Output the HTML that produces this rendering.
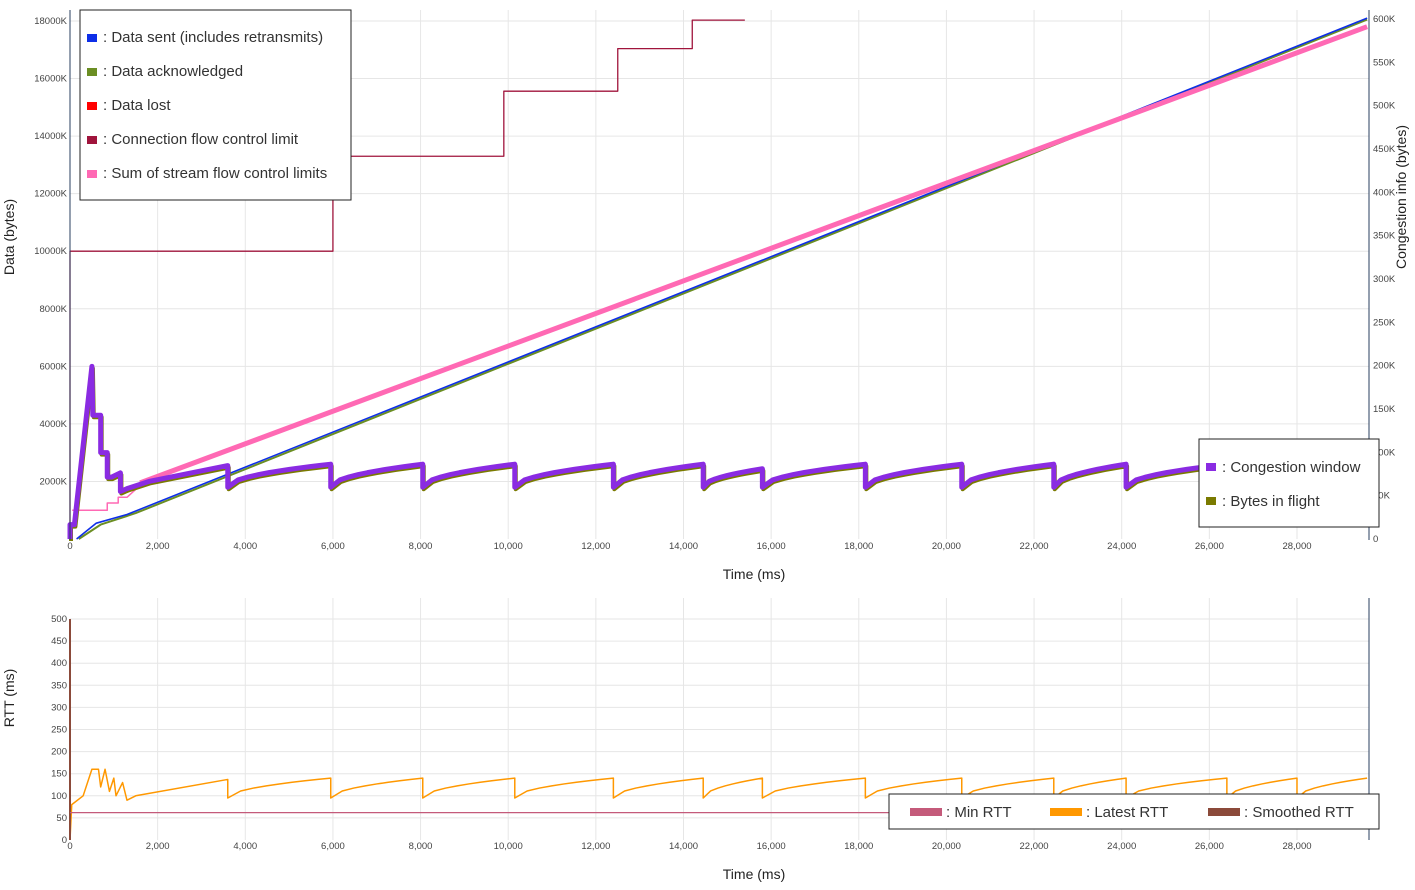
<!DOCTYPE html><html><head><style>
body{margin:0;background:#fff;font-family:"Liberation Sans",sans-serif}
svg text{font-family:"Liberation Sans",sans-serif}
</style></head><body>
<svg id="s" width="1415" height="885" xmlns="http://www.w3.org/2000/svg">
<g id="grid" stroke="#e6e6e6" stroke-width="1"></g>
<g id="data"></g>
<g id="ax" font-size="9.5" fill="#444"></g>
<line x1="70" y1="10" x2="70" y2="540" stroke="#2a3f5f" stroke-width="1"/>
<line x1="1369" y1="10" x2="1369" y2="540" stroke="#2a3f5f" stroke-width="1"/>
<line x1="1369" y1="598" x2="1369" y2="840" stroke="#2a3f5f" stroke-width="1"/>
<text x="754" y="579" font-size="14" text-anchor="middle" fill="#222">Time (ms)</text>
<text x="754" y="879" font-size="14" text-anchor="middle" fill="#222">Time (ms)</text>
<text transform="translate(14,237) rotate(-90)" font-size="14" text-anchor="middle" fill="#222">Data (bytes)</text>
<text transform="translate(1406,197) rotate(-90)" font-size="14" text-anchor="middle" fill="#222">Congestion info (bytes)</text>
<text transform="translate(14,698) rotate(-90)" font-size="14" text-anchor="middle" fill="#222">RTT (ms)</text>
<g font-size="15" fill="#333">
<rect x="80" y="10" width="271" height="190" fill="#fff" stroke="#222"/>
<rect x="87" y="34" width="10" height="8" fill="#0d2ee8"/><text x="103" y="42">: Data sent (includes retransmits)</text>
<rect x="87" y="68" width="10" height="8" fill="#6b8e23"/><text x="103" y="76">: Data acknowledged</text>
<rect x="87" y="102" width="10" height="8" fill="#f00"/><text x="103" y="110">: Data lost</text>
<rect x="87" y="136" width="10" height="8" fill="#a0143c"/><text x="103" y="144">: Connection flow control limit</text>
<rect x="87" y="170" width="10" height="8" fill="#ff69b4"/><text x="103" y="178">: Sum of stream flow control limits</text>
</g>
<g font-size="15" fill="#333" id="leg2"></g>
</svg>
<script>
const NS="http://www.w3.org/2000/svg";
const g=id=>document.getElementById(id);
function el(p,t,a,txt){const e=document.createElementNS(NS,t);for(const k in a)e.setAttribute(k,a[k]);if(txt!==undefined)e.textContent=txt;p.appendChild(e);return e;}
const X=t=>70+t*0.043821;
const Y=v=>539-v*28.78/1000; // v in K
const YR=v=>840-v*0.442;
// grid + ticks
for(let t=0;t<=28000;t+=2000){
  const x=X(t);
  if(t>0){el(g('grid'),'line',{x1:x,y1:10,x2:x,y2:539});el(g('grid'),'line',{x1:x,y1:598,x2:x,y2:840});}
  const lab=t.toLocaleString('en-US');
  el(g('ax'),'text',{x:x,y:549,'text-anchor':'middle'},lab);
  el(g('ax'),'text',{x:x,y:849,'text-anchor':'middle'},lab);
}
for(let v=2000;v<=18000;v+=2000){const y=Y(v);el(g('grid'),'line',{x1:70,y1:y,x2:1369,y2:y});el(g('ax'),'text',{x:67,y:y+3,'text-anchor':'end'},v+'K');}
for(let v=0;v<=600;v+=50){const y=539-v*0.8667;el(g('ax'),'text',{x:1373,y:y+3},v==0?'0':v+'K');}
for(let v=0;v<=500;v+=50){const y=YR(v);if(v>0)el(g('grid'),'line',{x1:70,y1:y,x2:1369,y2:y});el(g('ax'),'text',{x:67,y:y+3,'text-anchor':'end'},v);}
const d=g('data');
function pl(pts,st,w){el(d,'polyline',{points:pts.map(p=>p.join(',')).join(' '),fill:'none',stroke:st,'stroke-width':w,'stroke-linejoin':'round'});}
// flow control steps
pl([[X(0),539],[X(0),Y(10000)],[X(6000),Y(10000)],[X(6000),Y(13300)],[X(9900),Y(13300)],[X(9900),Y(15560)],[X(12500),Y(15560)],[X(12500),Y(17040)],[X(14200),Y(17040)],[X(14200),Y(18030)],[X(15400),Y(18030)]],'#a0143c',1.3);
// pink early
pl([[X(50),Y(1000)],[X(850),Y(1000)],[X(850),Y(1250)],[X(1100),Y(1250)],[X(1100),Y(1450)],[X(1300),Y(1450)],[X(1700),Y(2000)]],'#ff69b4',1.5);
// sent/acked
pl([[X(200),539],[X(700),Y(500)],[X(1500),Y(900)],[X(29600),Y(18050)]],'#6b8e23',2);
pl([[X(150),539],[X(600),Y(550)],[X(1300),Y(850)],[X(29600),Y(18100)]],'#0d2ee8',1.6);
pl([[X(1600),Y(1950)],[X(29600),Y(17800)]],'#ff69b4',5);
// cwnd
const drops=[3600,5950,8050,10150,12400,14450,15800,18150,20350,22450,24100,26400,28000,29600];
let cw=[[X(0),539],[X(0),Y(500)],[X(100),Y(500)],[X(500),Y(6000)],[X(520),Y(4300)],[X(700),Y(4300)],[X(700),Y(3000)],[X(850),Y(3000)],[X(850),Y(2150)],[X(950),Y(2150)],[X(1150),Y(2300)],[X(1150),Y(1650)],[X(1300),Y(1750)],[X(1800),Y(2000)],[X(3600),Y(2550)]];
let prev=3600;
for(const dr of drops.slice(1)){
  cw.push([X(prev),Y(1800)]);
  for(let i=1;i<=10;i++){const f=i/10;cw.push([X(prev+(dr-prev)*f),Y(1800+800*Math.sqrt(f)*(dr-prev>1500?1:0.8))]);}
  prev=dr;
}
pl(cw.map(p=>[p[0]+1,p[1]+2]),'#7a7a00',4);
pl(cw,'#8a2be2',5);
// RTT
let r=[[X(0),YR(0)],[X(40),YR(80)],[X(300),YR(100)],[X(500),YR(160)],[X(650),YR(160)],[X(700),YR(120)],[X(800),YR(160)],[X(900),YR(110)],[X(1000),YR(140)],[X(1050),YR(100)],[X(1200),YR(130)],[X(1300),YR(90)],[X(1500),YR(100)],[X(3600),YR(137)]];
prev=3600;
for(const dr of drops.slice(1)){r.push([X(prev),YR(95)]);for(let i=1;i<=8;i++){const f=i/8;r.push([X(prev+(dr-prev)*f),YR(95+45*Math.sqrt(f))]);}prev=dr;}
pl(r,'#ff9800',1.5);
pl([[X(0),YR(500)],[X(0),840]],'#8b4a3a',2);
pl([[X(0),YR(62)],[X(29600),YR(62)]],'#c45a7a',1.2);
// legends
const L=g('leg2');
el(L,'rect',{x:1199,y:439,width:180,height:88,fill:'#fff',stroke:'#222'});
el(L,'rect',{x:1206,y:463,width:10,height:8,fill:'#8a2be2'});el(L,'text',{x:1222,y:472},': Congestion window');
el(L,'rect',{x:1206,y:497,width:10,height:8,fill:'#7a7a00'});el(L,'text',{x:1222,y:506},': Bytes in flight');
el(L,'rect',{x:889,y:794,width:490,height:35,fill:'#fff',stroke:'#222'});
el(L,'rect',{x:910,y:808,width:32,height:8,fill:'#c45a7a'});el(L,'text',{x:946,y:817},': Min RTT');
el(L,'rect',{x:1050,y:808,width:32,height:8,fill:'#ff9800'});el(L,'text',{x:1086,y:817},': Latest RTT');
el(L,'rect',{x:1208,y:808,width:32,height:8,fill:'#8b4a3a'});el(L,'text',{x:1244,y:817},': Smoothed RTT');
</script>
</body></html>
